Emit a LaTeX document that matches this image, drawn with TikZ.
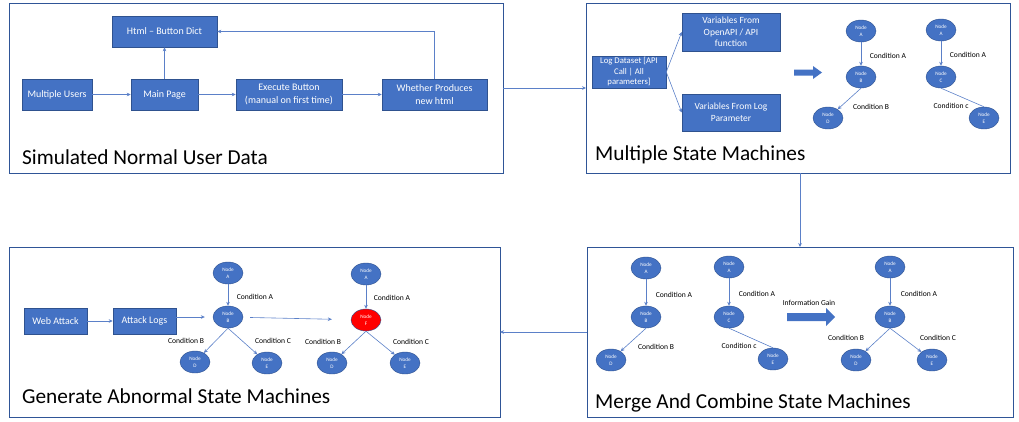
\documentclass[tikz,border=0pt]{standalone}
\usepackage{fontspec}
\setmainfont{Carlito}
\usetikzlibrary{shapes.geometric,arrows.meta}
\definecolor{boxblue}{HTML}{4472C4}
\definecolor{boxedge}{HTML}{2F528F}
\definecolor{panelblue}{HTML}{2F5597}
\definecolor{linkblue}{HTML}{5B80C8}
\begin{document}
\begin{tikzpicture}[x=1pt, y=-1pt,
  panel/.style={draw=panelblue, line width=0.9pt, inner sep=0, outer sep=0},
  box/.style={draw=boxedge, fill=boxblue, text=white, align=center, inner sep=0, line width=0.5pt, font=\fontsize{10}{12.3}\selectfont},
  state/.style={ellipse, draw=boxedge, fill=boxblue, text=white, align=center, inner sep=0, minimum width=30, minimum height=22, line width=0.4pt, font=\fontsize{5.2}{6.5}\selectfont},
  cond/.style={inner sep=0, font=\fontsize{7.6}{9}\selectfont},
  title/.style={anchor=base west, inner sep=0, font=\fontsize{21.3}{24}\selectfont},
  link/.style={draw=linkblue, line width=0.6pt, -{Stealth[length=4pt,width=3.6pt]}},
  plain/.style={draw=linkblue, line width=0.6pt}]
\useasboundingbox (0,0) rectangle (1019,421);
\node[panel, minimum width=494, minimum height=170] (p1) at (256,88) {};
\node[panel, minimum width=424, minimum height=170] (p2) at (798,88) {};
\node[panel, minimum width=491, minimum height=170] (p3) at (254.5,332) {};
\node[panel, minimum width=426, minimum height=170] (p4) at (800,332) {};
\draw[link] (p1) -- (p2);
\draw[link] (p2.south -| p4.north) -- (p4.north);
\draw[link] (p4) -- (p3);
\node[title] (t1) at (22,164) {Simulated Normal User Data};
\node[title] (t2) at (595,160) {Multiple State Machines};
\node[title] (t3) at (22,403) {Generate Abnormal State Machines};
\node[title] (t4) at (595,408) {Merge And Combine State Machines};
\node[box, minimum width=105, minimum height=31] (html) at (164.5,31.5) {Html – Button Dict};
\node[box, minimum width=70, minimum height=31] (users) at (57,94.5) {Multiple Users};
\node[box, minimum width=67, minimum height=31] (mainpage) at (164.5,94.5) {Main Page};
\node[box, minimum width=106, minimum height=31] (execute) at (289,94.5) {Execute Button\\(manual on first time)};
\node[box, minimum width=105, minimum height=31] (newhtml) at (434.5,94.5) {Whether Produces\\new html};
\draw[link] (users) -- (mainpage);
\draw[link] (mainpage) -- (execute);
\draw[link] (execute) -- (newhtml);
\draw[link] (mainpage) -- (html);
\draw[link] (newhtml.north) |- (html.east);
\node[box, minimum width=74, minimum height=32, font=\fontsize{8.7}{10.5}\selectfont] (logdata) at (629,72) {Log Dataset [API\\Call | All\\parameters]};
\node[box, minimum width=98, minimum height=38, font=\fontsize{9.5}{11.7}\selectfont] (varapi) at (731,32) {Variables From\\OpenAPI / API\\function};
\node[box, minimum width=98, minimum height=37, font=\fontsize{9.5}{11.7}\selectfont] (varlog) at (731,112.5) {Variables From Log\\Parameter};
\draw[link] (logdata.east) -- (varapi.west);
\draw[link] (logdata.east) -- (varlog.west);
\fill[boxblue] (794,69.5) -- (813,69.5) -- (813,66) -- (822,72.5) -- (813,79) -- (813,75.5) -- (794,75.5) -- cycle;
\node[state] (m1a) at (861,31) {Node\\A};
\node[state] (m1b) at (861,77) {Node\\B};
\node[state] (m1d) at (828,118) {Node\\D};
\draw[link] (m1a) -- (m1b);
\draw[link] (m1b.south) -- (m1d);
\node[cond] (m1ca) at (888,56) {Condition A};
\node[cond] (m1cb) at (871,107) {Condition B};
\node[state] (m2a) at (941,30) {Node\\A};
\node[state] (m2c) at (941,77) {Node\\C};
\node[state] (m2e) at (984,118) {Node\\E};
\draw[link] (m2a) -- (m2c);
\draw[plain] (m2c.south) -- (m2e.north);
\node[cond] (m2ca) at (968,55) {Condition A};
\node[cond] (m2cc) at (951,106) {Condition c};
\node[box, minimum width=63, minimum height=26] (webattack) at (55.5,321) {Web Attack};
\node[box, minimum width=63, minimum height=26] (attacklogs) at (144.5,321) {Attack Logs};
\draw[link] (webattack) -- (attacklogs);
\node[state] (g1a) at (228,273) {Node\\A};
\node[state] (g1b) at (228,317) {Node\\B};
\node[state] (g1d) at (195,362) {Node\\D};
\node[state] (g1e) at (267,363) {Node\\E};
\draw[link, shorten >=8pt] (attacklogs.east |- g1b) -- (g1b);
\draw[link] (g1a) -- (g1b);
\draw[link] (g1b.south) -- (g1d);
\draw[link] (g1b.south) -- (g1e);
\node[cond] (g1ca) at (255,297) {Condition A};
\node[cond] (g1cb) at (186,341) {Condition B};
\node[cond] (g1cc) at (273,341) {Condition C};
\node[state] (g2a) at (366,274) {Node\\A};
\node[state, fill=red] (g2f) at (366,320) {Node\\F};
\node[state] (g2d) at (332,363) {Node\\D};
\node[state] (g2e) at (405,363) {Node\\E};
\draw[link, shorten <=7pt, shorten >=19pt] (g1b) -- (g2f);
\draw[link] (g2a) -- (g2f);
\draw[link] (g2f.south) -- (g2d);
\draw[link] (g2f.south) -- (g2e);
\node[cond] (g2ca) at (392,298) {Condition A};
\node[cond] (g2cb) at (323,342) {Condition B};
\node[cond] (g2cc) at (411,342) {Condition C};
\node[state] (c1a) at (646,268) {Node\\A};
\node[state] (c1b) at (646,317) {Node\\B};
\node[state] (c1d) at (611,360) {Node\\D};
\draw[link] (c1a) -- (c1b);
\draw[link] (c1b.south) -- (c1d);
\node[cond] (c1ca) at (674,295) {Condition A};
\node[cond] (c1cb) at (656,347) {Condition B};
\node[state] (c2a) at (729,267) {Node\\A};
\node[state] (c2c) at (729,317) {Node\\C};
\node[state] (c2e) at (773,359) {Node\\E};
\draw[link] (c2a) -- (c2c);
\draw[plain] (c2c.south) -- (c2e.north);
\node[cond] (c2ca) at (757,294) {Condition A};
\node[cond] (c2cc) at (739,346) {Condition c};
\node[cond] (gain) at (809,303) {Information Gain};
\fill[boxblue] (787,313) -- (826,313) -- (826,308) -- (835,317) -- (826,326) -- (826,321) -- (787,321) -- cycle;
\node[state] (c3a) at (890,267) {Node\\A};
\node[state] (c3b) at (890,317) {Node\\B};
\node[state] (c3d) at (856,360) {Node\\D};
\node[state] (c3e) at (932,360) {Node\\E};
\draw[link] (c3a) -- (c3b);
\draw[link] (c3b.south) -- (c3d);
\draw[link] (c3b.south) -- (c3e);
\node[cond] (c3ca) at (919,294) {Condition A};
\node[cond] (c3cb) at (846,338) {Condition B};
\node[cond] (c3cc) at (938,338) {Condition C};
\end{tikzpicture}
\end{document}
